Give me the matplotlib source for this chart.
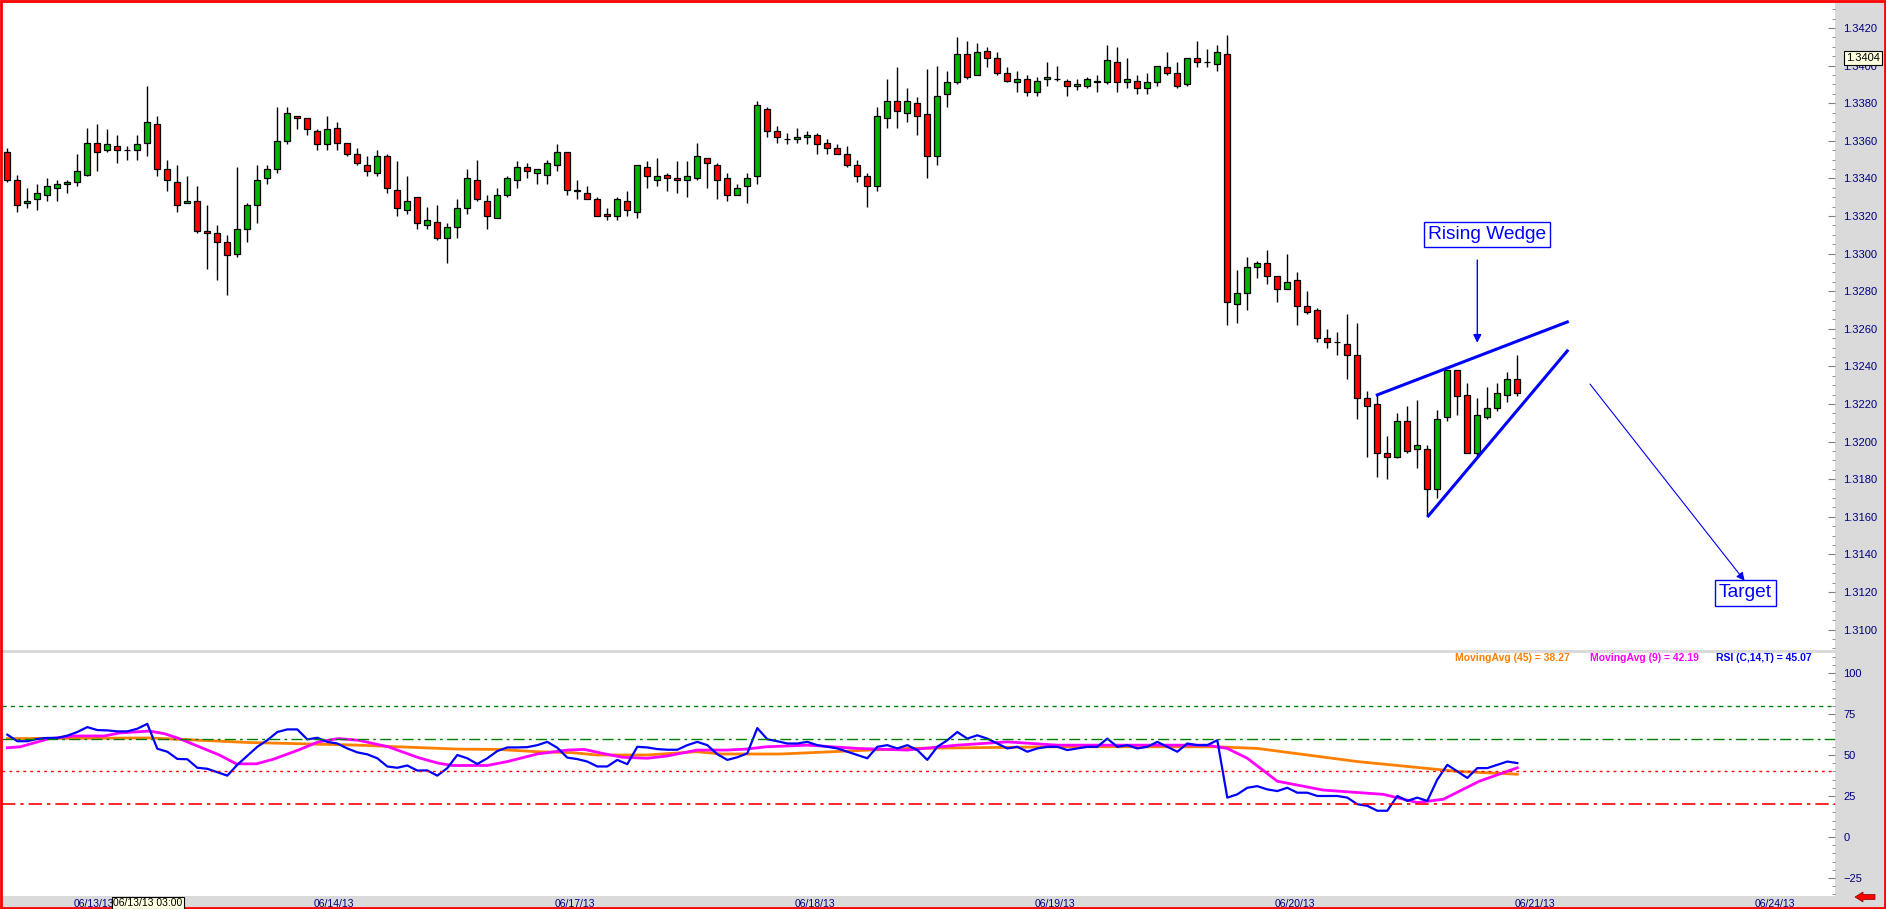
import numpy as np
import matplotlib
matplotlib.use("Agg")
import matplotlib.pyplot as plt
from matplotlib.patches import Rectangle, FancyArrow
from matplotlib.ticker import MultipleLocator, FormatStrFormatter

plt.rcParams['font.family'] = ['Liberation Sans', 'DejaVu Sans']

# hourly EUR/USD-style candles, 06/13 - 06/20
opens = [1.3354, 1.3339, 1.3327, 1.3329, 1.3331, 1.3335, 1.3337, 1.3338, 1.3342, 1.3359,
         1.3355, 1.3357, 1.3355, 1.3355, 1.3359, 1.3369, 1.3345, 1.3338, 1.3327, 1.3328,
         1.3312, 1.3311, 1.3306, 1.3300, 1.3313, 1.3326, 1.3340, 1.3345, 1.3360, 1.3373,
         1.3372, 1.3365, 1.3358, 1.3367, 1.3359, 1.3353, 1.3347, 1.3343, 1.3352, 1.3334,
         1.3323, 1.3330, 1.3315, 1.3317, 1.3308, 1.3314, 1.3324, 1.3339, 1.3328, 1.3319,
         1.3331, 1.3339, 1.3346, 1.3343, 1.3342, 1.3347, 1.3354, 1.3334, 1.3332, 1.3329,
         1.3321, 1.3320, 1.3328, 1.3322, 1.3346, 1.3339, 1.3342, 1.3340, 1.3339, 1.3340,
         1.3351, 1.3347, 1.3340, 1.3331, 1.3336, 1.3341, 1.3377, 1.3365, 1.3361, 1.3361,
         1.3362, 1.3363, 1.3359, 1.3356, 1.3353, 1.3347, 1.3341, 1.3336, 1.3372, 1.3381,
         1.3375, 1.3380, 1.3374, 1.3352, 1.3385, 1.3391, 1.3406, 1.3395, 1.3408, 1.3404,
         1.3396, 1.3391, 1.3393, 1.3386, 1.3393, 1.3393, 1.3392, 1.3389, 1.3389, 1.3392,
         1.3391, 1.3402, 1.3391, 1.3392, 1.3388, 1.3391, 1.3399, 1.3396, 1.3390, 1.3404,
         1.3402, 1.3401, 1.3406, 1.3273, 1.3279, 1.3293, 1.3295, 1.3288, 1.3281, 1.3286,
         1.3272, 1.3270, 1.3255, 1.3253, 1.3252, 1.3246, 1.3223, 1.3220, 1.3194, 1.3192,
         1.3211, 1.3196, 1.3196, 1.3175, 1.3213, 1.3238, 1.3225, 1.3194, 1.3213, 1.3218,
         1.3225, 1.3233]
highs = [1.3356, 1.3342, 1.3335, 1.3337, 1.3340, 1.3339, 1.3339, 1.3353, 1.3367, 1.3369,
         1.3366, 1.3363, 1.3357, 1.3363, 1.3389, 1.3373, 1.3350, 1.3347, 1.3341, 1.3336,
         1.3326, 1.3315, 1.3310, 1.3346, 1.3327, 1.3347, 1.3347, 1.3378, 1.3378, 1.3373,
         1.3372, 1.3366, 1.3373, 1.3370, 1.3359, 1.3356, 1.3352, 1.3355, 1.3353, 1.3349,
         1.3341, 1.3330, 1.3325, 1.3326, 1.3316, 1.3329, 1.3345, 1.3350, 1.3331, 1.3335,
         1.3341, 1.3349, 1.3348, 1.3345, 1.3350, 1.3358, 1.3354, 1.3339, 1.3336, 1.3330,
         1.3324, 1.3330, 1.3333, 1.3347, 1.3349, 1.3351, 1.3343, 1.3349, 1.3349, 1.3359,
         1.3351, 1.3348, 1.3343, 1.3337, 1.3343, 1.3381, 1.3378, 1.3368, 1.3364, 1.3367,
         1.3365, 1.3364, 1.3361, 1.3358, 1.3357, 1.3350, 1.3343, 1.3378, 1.3393, 1.3399,
         1.3388, 1.3383, 1.3398, 1.3400, 1.3397, 1.3415, 1.3413, 1.3412, 1.3410, 1.3407,
         1.3399, 1.3397, 1.3395, 1.3394, 1.3402, 1.3400, 1.3393, 1.3393, 1.3394, 1.3395,
         1.3411, 1.3410, 1.3404, 1.3395, 1.3396, 1.3400, 1.3407, 1.3402, 1.3404, 1.3413,
         1.3409, 1.3411, 1.3416, 1.3291, 1.3298, 1.3296, 1.3302, 1.3288, 1.3300, 1.3290,
         1.3280, 1.3271, 1.3260, 1.3258, 1.3268, 1.3263, 1.3227, 1.3225, 1.3203, 1.3215,
         1.3219, 1.3222, 1.3198, 1.3217, 1.3238, 1.3238, 1.3231, 1.3223, 1.3229, 1.3231,
         1.3237, 1.3246]
lows = [1.3338, 1.3322, 1.3324, 1.3323, 1.3328, 1.3328, 1.3332, 1.3336, 1.3341, 1.3344,
        1.3354, 1.3348, 1.3350, 1.3350, 1.3352, 1.3341, 1.3333, 1.3322, 1.3327, 1.3311,
        1.3292, 1.3286, 1.3278, 1.3298, 1.3306, 1.3316, 1.3337, 1.3343, 1.3358, 1.3366,
        1.3363, 1.3355, 1.3355, 1.3355, 1.3352, 1.3347, 1.3341, 1.3341, 1.3332, 1.3320,
        1.3321, 1.3313, 1.3313, 1.3307, 1.3295, 1.3308, 1.3321, 1.3328, 1.3313, 1.3319,
        1.3330, 1.3335, 1.3340, 1.3337, 1.3337, 1.3344, 1.3331, 1.3329, 1.3329, 1.3320,
        1.3318, 1.3318, 1.3320, 1.3319, 1.3335, 1.3336, 1.3333, 1.3332, 1.3330, 1.3339,
        1.3335, 1.3329, 1.3328, 1.3331, 1.3327, 1.3337, 1.3362, 1.3359, 1.3358, 1.3359,
        1.3358, 1.3353, 1.3353, 1.3353, 1.3346, 1.3338, 1.3325, 1.3333, 1.3367, 1.3367,
        1.3370, 1.3363, 1.3340, 1.3347, 1.3378, 1.3390, 1.3393, 1.3395, 1.3399, 1.3395,
        1.3391, 1.3386, 1.3384, 1.3384, 1.3389, 1.3392, 1.3384, 1.3387, 1.3388, 1.3386,
        1.3390, 1.3386, 1.3388, 1.3385, 1.3385, 1.3389, 1.3395, 1.3388, 1.3389, 1.3399,
        1.3399, 1.3397, 1.3262, 1.3263, 1.3270, 1.3287, 1.3284, 1.3274, 1.3281, 1.3262,
        1.3268, 1.3253, 1.3250, 1.3246, 1.3233, 1.3212, 1.3192, 1.3181, 1.3180, 1.3191,
        1.3194, 1.3186, 1.3161, 1.3170, 1.3211, 1.3214, 1.3194, 1.3192, 1.3212, 1.3216,
        1.3221, 1.3224]
closes = [1.3339, 1.3326, 1.3328, 1.3332, 1.3336, 1.3337, 1.3338, 1.3344, 1.3359, 1.3354,
          1.3358, 1.3355, 1.3355, 1.3358, 1.3370, 1.3345, 1.3339, 1.3326, 1.3328, 1.3312,
          1.3311, 1.3306, 1.3299, 1.3313, 1.3326, 1.3339, 1.3345, 1.3360, 1.3375, 1.3372,
          1.3366, 1.3358, 1.3366, 1.3359, 1.3353, 1.3348, 1.3344, 1.3352, 1.3335, 1.3324,
          1.3328, 1.3316, 1.3318, 1.3308, 1.3314, 1.3324, 1.3340, 1.3329, 1.3320, 1.3331,
          1.3340, 1.3346, 1.3344, 1.3345, 1.3348, 1.3354, 1.3334, 1.3333, 1.3329, 1.3320,
          1.3320, 1.3329, 1.3323, 1.3347, 1.3341, 1.3341, 1.3340, 1.3339, 1.3341, 1.3352,
          1.3348, 1.3339, 1.3331, 1.3335, 1.3340, 1.3379, 1.3365, 1.3362, 1.3361, 1.3362,
          1.3363, 1.3358, 1.3356, 1.3353, 1.3347, 1.3341, 1.3336, 1.3373, 1.3381, 1.3376,
          1.3381, 1.3373, 1.3352, 1.3384, 1.3391, 1.3406, 1.3394, 1.3407, 1.3404, 1.3396,
          1.3392, 1.3393, 1.3386, 1.3392, 1.3394, 1.3393, 1.3389, 1.3390, 1.3393, 1.3391,
          1.3403, 1.3391, 1.3393, 1.3388, 1.3391, 1.3400, 1.3396, 1.3389, 1.3404, 1.3402,
          1.3402, 1.3407, 1.3274, 1.3279, 1.3293, 1.3295, 1.3288, 1.3281, 1.3285, 1.3272,
          1.3269, 1.3255, 1.3253, 1.3253, 1.3246, 1.3223, 1.3219, 1.3194, 1.3192, 1.3211,
          1.3195, 1.3198, 1.3175, 1.3212, 1.3238, 1.3224, 1.3194, 1.3214, 1.3218, 1.3226,
          1.3233, 1.3226]

# RSI(14), one value per candle
rsi = [62.4, 58.4, 58.4, 59.8, 60.4, 60.4, 61.8, 64.0, 67.0, 65.2,
       65.0, 64.4, 64.4, 66.0, 69.0, 53.8, 52.0, 47.6, 47.4, 42.2,
       41.6, 39.5, 37.4, 44.0, 49.5, 55.0, 59.0, 64.0, 65.6, 65.6,
       59.5, 60.5, 58.0, 57.0, 54.0, 51.6, 50.4, 48.0, 43.0, 42.2,
       43.6, 40.5, 40.6, 37.4, 42.0, 50.0, 48.0, 44.5, 48.0, 52.4,
       54.6, 54.6, 54.8, 56.0, 58.0, 54.4, 48.4, 47.5, 46.0, 43.0,
       43.0, 47.0, 44.4, 55.0, 54.6, 53.6, 53.2, 53.2, 56.0, 58.0,
       56.0, 50.5, 47.0, 48.6, 51.0, 66.4, 59.6, 58.4, 57.0, 57.0,
       58.0, 56.0, 55.0, 54.0, 52.0, 50.0, 48.0, 55.0, 56.0, 54.0,
       56.0, 53.0, 47.0, 55.0, 59.0, 64.0, 60.0, 62.0, 60.0, 57.0,
       54.0, 55.0, 52.0, 54.0, 55.0, 55.0, 53.0, 54.0, 55.0, 55.0,
       60.0, 55.0, 56.0, 54.0, 55.0, 58.0, 55.0, 52.0, 57.0, 56.0,
       56.0, 59.0, 24.0, 26.0, 30.0, 31.0, 29.0, 28.0, 30.0, 27.0,
       27.0, 25.0, 25.0, 25.0, 24.0, 20.0, 19.0, 16.0, 16.0, 25.0,
       22.0, 24.0, 22.0, 35.0, 44.0, 40.0, 36.0, 42.0, 42.0, 44.0,
       46.0, 45.07]

# moving averages of the RSI, read at sample candles
ma9_idx = [0, 1.3, 4.2, 6.7, 9.7, 11.2, 14.2, 15.7, 17.2, 19.2, 21.2, 22.9, 24.9, 26.6,
           29.1, 31.1, 33.1, 35.1, 38.1, 41.1, 43.1, 44.5, 48, 50, 53, 56, 57.7, 59.5,
           61.5, 64, 66, 69, 71.9, 73.9, 75.9, 80, 85, 90, 95, 100, 105, 110, 115, 120,
           122, 124, 127, 131.6, 137.6, 141, 143.6, 147.2, 151]
ma9_val = [54.4, 55, 60, 61.6, 61.6, 63.4, 64.6, 63, 60, 55, 50, 44.6, 44.6, 47.4,
           53, 58, 60, 59, 55, 48.4, 45, 43.6, 43.6, 46, 50.6, 53, 53.4, 51,
           48.6, 48, 49.4, 53, 53, 53.6, 55, 56, 54, 53, 56, 58, 56, 56, 56, 56,
           54, 48, 34, 28.6, 26, 21, 23, 34, 42.19]
ma45_idx = [0, 14.2, 19.2, 24.2, 31.1, 35.1, 39.1, 45, 49, 53, 56.5, 59, 64, 68.9, 71.4,
            77.3, 90, 105, 121, 125, 130, 135, 140, 145, 151]
ma45_val = [60, 60.4, 59, 57.6, 56.6, 56, 55, 53.6, 53.4, 52, 51.4, 50, 50, 52, 50.6,
            50.6, 54, 55, 55, 54, 50, 46, 43, 40, 38.27]

day_labels = ['06/13/13', '06/14/13', '06/17/13', '06/18/13', '06/19/13',
              '06/20/13', '06/21/13', '06/24/13']
day_pos = [8.7, 32.7, 56.8, 80.8, 104.8, 128.8, 152.8, 176.8]

# drawn annotations (candle index, price)
wedge_top = ([137.0, 156.0], [1.32248, 1.32636])
wedge_bottom = ([142.1, 156.0], [1.31604, 1.32482])
target_from = (158.1, 1.32317)
target_to = (173.9, 1.31248)

W, H = 1886, 909
NAVY = '#000080'
fig = plt.figure(figsize=(W / 100, H / 100), dpi=100, facecolor='#DADADA')

ax = fig.add_axes([2 / W, 1 - 650 / H, 1833 / W, 648 / H])
ax2 = fig.add_axes([2 / W, 1 - 896 / H, 1833 / W, 243 / H])

x = np.arange(len(opens))
o = np.array(opens)
c = np.array(closes)
up = c >= o
col = np.where(up, '#00B400', '#FF0000')

ax.vlines(x, lows, highs, color='black', lw=1.0, zorder=2)
ax.bar(x, np.abs(c - o), bottom=np.minimum(o, c), width=0.62, color=col,
       edgecolor='black', linewidth=0.9, zorder=3)

ax.plot(*wedge_top, color='#0000FF', lw=2.2, zorder=4)
ax.plot(*wedge_bottom, color='#0000FF', lw=2.2, zorder=4)
ax.annotate('', xy=(147.0, 1.3251), xytext=(147.0, 1.3298),
            arrowprops=dict(arrowstyle='-|>', color='#0000FF', lw=1, mutation_scale=12))
ax.text(148.0, 1.3310, 'Rising Wedge', ha='center', va='center', fontsize=13.8, color='#0000FF',
        bbox=dict(boxstyle='square,pad=0.2', fc='white', ec='#0000FF', lw=1), zorder=5)
ax.annotate('', xy=target_to, xytext=target_from,
            arrowprops=dict(arrowstyle='-|>', color='#0000FF', lw=0.8, mutation_scale=12))
ax.text(173.8, 1.31195, 'Target', ha='center', va='center', fontsize=13.8, color='#0000FF',
        bbox=dict(boxstyle='square,pad=0.22', fc='white', ec='#0000FF', lw=1), zorder=5)

ax.set_xlim(-0.53, 182.77)
ax.set_ylim(1.30891, 1.34338)

ax2.plot(ma45_idx, ma45_val, color='#FF8000', lw=2)
ax2.plot(ma9_idx, ma9_val, color='#FF00FF', lw=2)
ax2.plot(x, rsi, color='#0000FF', lw=1.6)
ax2.axhline(80, color='#008000', lw=1, ls=(0, (3, 3)))
ax2.axhline(60, color='#008000', lw=1, ls=(0, (8, 3, 2, 3)))
ax2.axhline(40, color='#FF0000', lw=1, ls=(0, (2, 3)))
ax2.axhline(20, color='#FF0000', lw=1.2, ls=(0, (8, 3, 2, 3)))
ax2.set_xlim(-0.53, 182.77)
ax2.set_ylim(-36.0, 112.2)

for a in (ax, ax2):
    for s in a.spines.values():
        s.set_visible(False)
    a.yaxis.tick_right()
    a.tick_params(axis='y', which='major', direction='in', length=5, color='#808080',
                  labelsize=8, labelcolor=NAVY, pad=6)
    a.tick_params(axis='y', which='minor', direction='in', length=2.5, color='#808080')

ax.yaxis.set_major_locator(MultipleLocator(0.002))
ax.yaxis.set_minor_locator(MultipleLocator(0.0005))
ax.yaxis.set_major_formatter(FormatStrFormatter('%.4f'))
ax.set_xticks([])

ax2.yaxis.set_major_locator(MultipleLocator(25))
ax2.yaxis.set_minor_locator(MultipleLocator(5))
ax2.set_xticks(day_pos, day_labels)
ax2.tick_params(axis='x', length=0, labelsize=7.5, labelcolor=NAVY, pad=2)

fig.text(1455 / W, 1 - 658 / H, 'MovingAvg (45) = 38.27', color='#FF8000', fontsize=7.5,
         fontweight='bold', va='center')
fig.text(1590 / W, 1 - 658 / H, 'MovingAvg (9) = 42.19', color='#FF00FF', fontsize=7.5,
         fontweight='bold', va='center')
fig.text(1716 / W, 1 - 658 / H, 'RSI (C,14,T) = 45.07', color='#0000FF', fontsize=7.5,
         fontweight='bold', va='center')

# cursor tags
fig.text(1863 / W, 1 - 58 / H, '1.3404', fontsize=8, color='black', ha='center', va='center',
         bbox=dict(boxstyle='square,pad=0.15', fc='#FFFFE1', ec='black', lw=0.8))
fig.text(148 / W, 1 - 903 / H, '06/13/13 03:00', fontsize=7.5, color='black', ha='center',
         va='center', bbox=dict(boxstyle='square,pad=0.12', fc='#FFFFE1', ec='black', lw=0.8))

fig.add_artist(FancyArrow(1875 / W, 1 - 897 / H, -20 / W, 0, width=5 / H, head_width=10 / H,
                          head_length=8 / W, length_includes_head=True, transform=fig.transFigure,
                          fc='#FF0000', ec='#800000', lw=0.5))
fig.add_artist(Rectangle((0.0005, 0.001), 0.999, 0.998, transform=fig.transFigure,
                         fill=False, ec='#FF0000', lw=2))

fig.savefig('out.png', dpi=100, facecolor=fig.get_facecolor())
